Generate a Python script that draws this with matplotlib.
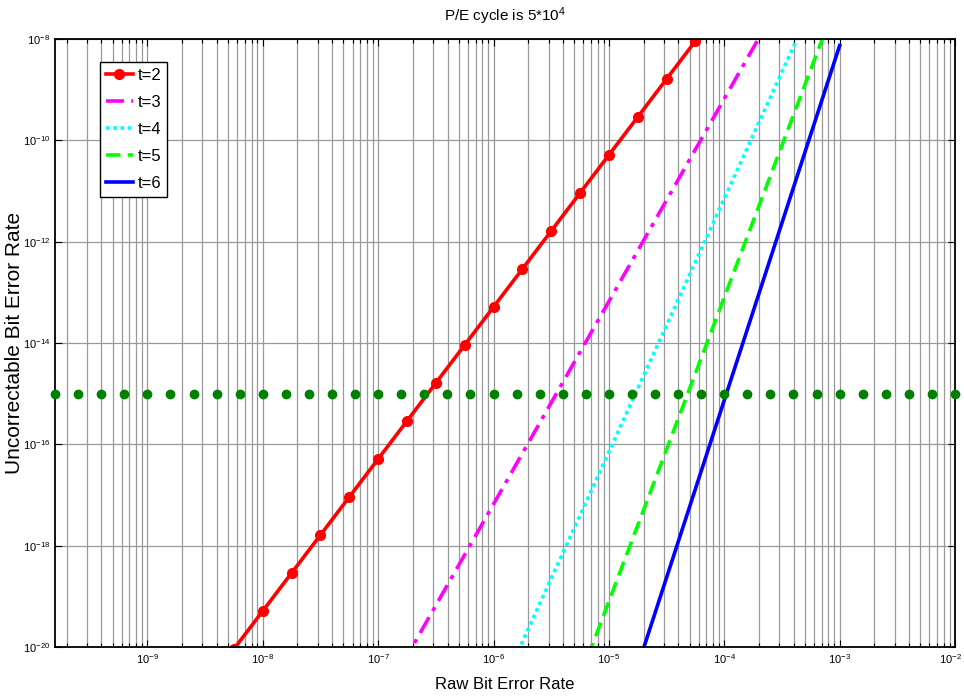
import numpy as np
import matplotlib
matplotlib.use("Agg")
import matplotlib.pyplot as plt
from matplotlib.ticker import FixedLocator, NullFormatter, FuncFormatter
from matplotlib.transforms import ScaledTranslation

plt.rcParams["font.family"] = ["Liberation Sans", "DejaVu Sans"]
plt.rcParams["mathtext.fontset"] = "custom"
plt.rcParams["mathtext.rm"] = "Liberation Sans"
plt.rcParams["mathtext.it"] = "Liberation Sans"

# raw BER (log10) vs UBER (log10), t = correctable bits
t2_logx = [-8.25, -8.0, -7.75, -7.5, -7.25, -7.0, -6.75, -6.5, -6.25,
           -6.0, -5.75, -5.5, -5.25, -5.0, -4.75, -4.5, -4.25]
t2_logy = [-20.04, -19.29, -18.54, -17.79, -17.04, -16.29, -15.54, -14.79, -14.04,
           -13.29, -12.54, -11.79, -11.04, -10.29, -9.54, -8.79, -8.04]

t3_logx = [-7.0, -6.5, -6.0, -5.5, -5.0, -4.5, -4.0, -3.5]
t3_logy = [-21.18, -19.18, -17.18, -15.18, -13.18, -11.18, -9.18, -7.18]

t4_logx = [-6.0, -5.5, -5.0, -4.5, -4.0, -3.5, -3.0]
t4_logy = [-21.15, -18.65, -16.15, -13.65, -11.15, -8.65, -6.15]

t5_logx = [-5.5, -5.0, -4.5, -4.0, -3.5, -3.0]
t5_logy = [-22.1, -19.1, -16.1, -13.1, -10.1, -7.1]

t6_logx = [-5.0, -4.5, -4.0, -3.5, -3.0]
t6_logy = [-22.13, -18.63, -15.13, -11.63, -8.13]

# UBER target line at 1e-15
target_logx = [-9.8, -9.6, -9.4, -9.2, -9.0, -8.8, -8.6, -8.4, -8.2, -8.0,
               -7.8, -7.6, -7.4, -7.2, -7.0, -6.8, -6.6, -6.4, -6.2, -6.0,
               -5.8, -5.6, -5.4, -5.2, -5.0, -4.8, -4.6, -4.4, -4.2, -4.0,
               -3.8, -3.6, -3.4, -3.2, -3.0, -2.8, -2.6, -2.4, -2.2, -2.0]
target_uber = 1e-15

series = [
    ("t=2", t2_logx, t2_logy, dict(color="#ff0000", ls="-", marker="o", ms=7)),
    ("t=3", t3_logx, t3_logy, dict(color="#ff00ff", ls=(0, (5, 2, 1.2, 2)))),
    ("t=4", t4_logx, t4_logy, dict(color="#00ffff", ls=(0, (1, 1)))),
    ("t=5", t5_logx, t5_logy, dict(color="#00ff00", ls=(0, (4, 2)))),
    ("t=6", t6_logx, t6_logy, dict(color="#0000ff", ls="-")),
]

fig = plt.figure(figsize=(9.64, 6.96), dpi=100)
ax = fig.add_axes([0.0571, 0.0704, 0.9336, 0.8736])
ax.set_xscale("log")
ax.set_yscale("log")
ax.set_xlim(10 ** -9.8, 1e-2)
ax.set_ylim(1e-20, 1e-8)

# grid: every decade subdivision on x, every second decade on y
xmaj = [10.0 ** k for k in range(-9, -1)]
xmin_ticks = [m * 10.0 ** k for k in range(-10, -2) for m in range(2, 10)]
xmin_ticks = [v for v in xmin_ticks if 10 ** -9.8 <= v <= 1e-2]
ymaj = [10.0 ** k for k in range(-20, -7, 2)]
ax.xaxis.set_major_locator(FixedLocator(xmaj))
ax.xaxis.set_minor_locator(FixedLocator(xmin_ticks))
ax.xaxis.set_minor_formatter(NullFormatter())
ax.yaxis.set_major_locator(FixedLocator(ymaj))
ax.yaxis.set_minor_locator(FixedLocator([]))
fmt = FuncFormatter(lambda v, p: r"$\mathregular{10^{%d}}$" % round(np.log10(v)))
ax.xaxis.set_major_formatter(fmt)
ax.yaxis.set_major_formatter(fmt)

for v in xmaj + xmin_ticks:
    ax.axvline(v, color="#999999", lw=0.9, zorder=0)
for v in ymaj:
    ax.axhline(v, color="#999999", lw=0.9, zorder=0)

ax.tick_params(which="both", direction="in", top=True, right=True, labelsize=8,
               width=0.8)
ax.tick_params(which="major", length=5)
ax.tick_params(which="minor", length=3)
for s in ax.spines.values():
    s.set_linewidth(1.3)

lines = []
for label, lx, ly, style in series:
    xs = [10.0 ** v for v in lx]
    ys = [10.0 ** v for v in ly]
    ln, = ax.plot(xs, ys, lw=2.6, label=label, **style)
    lines.append(ln)

ax.plot([10.0 ** v for v in target_logx], [target_uber] * len(target_logx),
        ls="none", marker="o", ms=6, color="#008000", clip_on=False, zorder=3)

ax.legend(handles=lines, loc="upper left", bbox_to_anchor=(0.05, 0.962),
          fontsize=12, frameon=True, fancybox=False, edgecolor="black",
          framealpha=1, handlelength=1.6, handletextpad=0.3,
          borderpad=0.35, labelspacing=0.72, borderaxespad=0)

ax.set_title(r"P/E cycle is 5*10$^{4}$", fontsize=11, pad=13)
ax.set_xlabel("Raw Bit Error Rate", fontsize=12, labelpad=8)
ax.set_ylabel("Uncorrectable Bit Error Rate", fontsize=15)
ax.yaxis.set_label_coords(-0.034, 0.5)

# keep the 10^-2 label inside the canvas
fig.canvas.draw()
last = ax.get_xticklabels()[-1]
last.set_transform(last.get_transform() + ScaledTranslation(-5 / 100, 0, fig.dpi_scale_trans))

fig.savefig("out.png", dpi=100)
